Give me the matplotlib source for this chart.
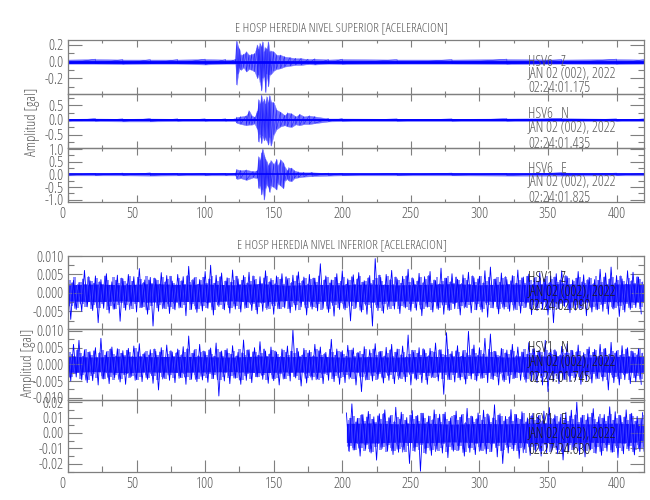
import numpy as np
import matplotlib
matplotlib.use('Agg')
import matplotlib.pyplot as plt
from matplotlib.ticker import MultipleLocator
from matplotlib.transforms import ScaledTranslation

plt.rcParams['font.family'] = ['Open Sans', 'DejaVu Sans']
plt.rcParams['font.weight'] = 'light'
plt.rcParams['font.stretch'] = 'condensed'

# --- upper block, envelopes (gal)
z_t = [0, 20, 40, 60, 80, 100, 115, 122, 123, 124, 125, 126, 128, 130, 132, 134, 136, 138, 139, 140, 141, 142, 143, 144, 145, 146, 147, 148, 150, 152, 155, 158, 162, 166, 170, 175, 180, 190, 200, 240, 280, 320, 360, 400, 420]
z_hi = [0.025, 0.03, 0.025, 0.025, 0.025, 0.03, 0.025, 0.025, 0.25, 0.18, 0.15, 0.08, 0.09, 0.12, 0.08, 0.09, 0.10, 0.20, 0.15, 0.22, 0.18, 0.24, 0.12, 0.17, 0.15, 0.24, 0.12, 0.13, 0.12, 0.08, 0.08, 0.06, 0.05, 0.04, 0.04, 0.03, 0.035, 0.025, 0.03, 0.025, 0.025, 0.03, 0.025, 0.03, 0.025]
z_lo = [-0.025, -0.025, -0.03, -0.025, -0.025, -0.035, -0.025, -0.025, -0.28, -0.15, -0.08, -0.10, -0.07, -0.12, -0.09, -0.10, -0.12, -0.20, -0.16, -0.25, -0.35, -0.20, -0.18, -0.37, -0.15, -0.30, -0.16, -0.15, -0.11, -0.09, -0.08, -0.06, -0.05, -0.04, -0.04, -0.03, -0.035, -0.025, -0.03, -0.025, -0.025, -0.03, -0.025, -0.03, -0.025]

n_t = [0, 20, 40, 60, 80, 100, 115, 122, 123, 126, 130, 132, 134, 136, 138, 139, 140, 141, 142, 143, 144, 145, 146, 147, 148, 150, 152, 155, 158, 160, 163, 166, 169, 172, 176, 180, 190, 200, 240, 280, 320, 360, 400, 420]
n_hi = [0.04, 0.05, 0.04, 0.05, 0.04, 0.04, 0.04, 0.04, 0.10, 0.12, 0.15, 0.32, 0.15, 0.10, 0.30, 0.70, 0.55, 0.85, 0.60, 0.72, 0.55, 0.80, 0.60, 0.84, 0.62, 0.60, 0.35, 0.27, 0.16, 0.25, 0.22, 0.12, 0.20, 0.12, 0.15, 0.12, 0.05, 0.05, 0.04, 0.04, 0.05, 0.06, 0.04, 0.04]
n_lo = [-0.04, -0.04, -0.05, -0.05, -0.04, -0.04, -0.04, -0.04, -0.10, -0.14, -0.18, -0.16, -0.16, -0.12, -0.32, -0.75, -0.50, -0.80, -0.55, -0.70, -0.60, -0.72, -0.85, -0.60, -0.88, -0.50, -0.32, -0.22, -0.18, -0.22, -0.24, -0.15, -0.18, -0.14, -0.14, -0.11, -0.05, -0.04, -0.04, -0.04, -0.04, -0.04, -0.04, -0.04]

e_t = [0, 20, 40, 60, 80, 100, 115, 122, 123, 126, 130, 135, 138, 139, 140, 141, 142, 143, 144, 145, 146, 147, 148, 150, 152, 153, 155, 157, 158, 160, 161, 163, 165, 168, 172, 178, 190, 200, 240, 280, 320, 360, 400, 420]
e_hi = [0.04, 0.04, 0.05, 0.06, 0.04, 0.04, 0.04, 0.04, 0.20, 0.16, 0.18, 0.12, 0.15, 0.70, 0.55, 0.85, 1.00, 0.75, 0.60, 0.50, 0.35, 0.45, 0.55, 0.40, 0.60, 0.35, 0.58, 0.45, 0.30, 0.15, 0.27, 0.25, 0.15, 0.10, 0.08, 0.08, 0.05, 0.04, 0.04, 0.05, 0.04, 0.07, 0.05, 0.04]
e_lo = [-0.04, -0.04, -0.04, -0.05, -0.04, -0.04, -0.04, -0.04, -0.18, -0.15, -0.22, -0.12, -0.15, -0.55, -0.45, -0.80, -0.60, -1.00, -0.55, -0.40, -0.50, -0.70, -0.45, -0.50, -0.60, -0.35, -0.45, -0.55, -0.25, -0.18, -0.25, -0.27, -0.15, -0.12, -0.09, -0.07, -0.05, -0.04, -0.04, -0.04, -0.05, -0.05, -0.04, -0.04]

# --- lower block, one peak every 2 s, in 1e-4 gal
unit = 1e-4
hsv1z = [
    40, -72, 34, -45, 28, -50, 61, -38, 33, -48,
    46, -81, 36, -42, 52, -55, 30, -44, 48, -77,
    38, -47, 50, -35, 44, -52, 66, -40, 35, -58,
    42, -90, 37, -50, 55, -41, 47, -56, 32, -46,
    50, -38, 44, -62, 72, -45, 40, -53, 36, -49,
    58, -42, 75, -60, 48, -37, 54, -46, 41, -55,
    62, -44, 38, -52, 47, -40, 56, -48, 35, -57,
    44, -50, 60, -36, 39, -58, 46, -43, 52, -41,
    36, -54, 48, -47, 57, -38, 43, -60, 50, -44,
    40, -49, 79, -42, 46, -53, 35, -63, 52, -45,
    60, -46, 38, -76, 49, -40, 55, -52, 33, -58,
    47, -90, 93, -48, 42, -55, 50, -37, 61, -44,
    38, -56, 45, -41, 64, -50, 36, -47, 53, -62,
    44, -39, 58, -52, 33, -45, 67, -58, 40, -48,
    52, -43, 37, -60, 49, -38, 56, -54, 41, -46,
    45, -52, 60, -66, 70, -41, 38, -57, 54, -44,
    36, -50, 47, -42, 62, -55, 43, -39, 51, -59,
    40, -48, 55, -45, 37, -60, 46, -81, 52, -43,
    60, -37, 44, -54, 35, -47, 58, -41, 49, -62,
    42, -52, 36, -46, 64, -50, 54, -58, 70, -44,
    47, -64, 38, -52, 60, -45, 56, -40, 43, -57]
hsv1n = [
    45, -50, 60, -38, 72, -47, 42, -55, 38, -49,
    50, -62, 78, -44, 36, -58, 52, -40, 47, -53,
    41, -60, 48, -37, 55, -46, 62, -52, 35, -45,
    44, -57, 39, -77, 50, -41, 58, -48, 37, -55,
    46, -39, 53, -60, 85, -45, 42, -52, 60, -47,
    38, -54, 49, -43, 64, -95, 40, -50, 47, -58,
    56, -42, 36, -60, 73, -48, 44, -55, 50, -38,
    68, -45, 40, -57, 52, -49, 37, -62, 46, -43,
    55, -50, 103, -41, 38, -65, 48, -56, 42, -47,
    60, -44, 52, -58, 36, -48, 75, -52, 46, -60,
    41, -55, 57, -39, 49, -62, 35, -82, 53, -46,
    44, -50, 62, -43, 39, -56, 51, -48, 60, -58,
    46, -40, 55, -52, 88, -62, 37, -47, 50, -55,
    42, -60, 48, -38, 64, -50, 44, -90, 95, -45,
    39, -53, 56, -47, 41, -59, 99, -44, 58, -50,
    50, -42, 78, -55, 91, -46, 38, -62, 48, -52,
    43, -57, 60, -40, 52, -48, 36, -54, 65, -49,
    47, -55, 40, -62, 72, -82, 46, -50, 38, -58,
    54, -44, 62, -52, 41, -47, 58, -60, 35, -48,
    52, -56, 45, -41, 60, -50, 48, -77, 66, -55,
    40, -62, 56, -46, 50, -58, 38, -52, 47, -60]
hsv1e = [
    130, -120, 189, -110, 95, -150, 120, -105, 140, -130,
    105, -176, 125, -100, 150, -115, 110, -140, 167, -125,
    135, -108, 100, -198, 145, -120, 115, -248, 128, -135,
    110, -145, 150, -105, 122, -130, 135, -160, 98, -118,
    142, -110, 118, -150, 160, -125, 105, -140, 130, -112,
    148, -135, 112, -120, 183, -155, 125, -198, 108, -130,
    152, -115, 120, -165, 138, -105, 98, -145, 128, -120,
    110, -150, 142, -128, 165, -112, 118, -135, 100, -175,
    135, -122, 148, -108, 200, -140, 115, -155, 125, -110,
    158, -132, 105, -145, 120, -118, 170, -125, 138, -160,
    112, -135, 150, -115, 128, -142, 108, -120, 132]

# paler in-between swings, taken 1 s later than the peaks above
hsv1z_b = [
    -35, 28, -42, 22, -30, 38, -25, 44, -33, 26,
    -40, 30, -24, 46, -36, 20, -44, 34, -27, 40,
    -32, 25, -45, 31, -22, 42, -38, 28, -46, 35,
    -26, 40, -34, 24, -43, 30, -37, 45, -28, 21,
    -41, 33, -25, 47, -30, 36, -44, 23, -35, 42,
    -27, 38, -46, 26, -33, 44, -22, 32, -40, 29,
    -36, 45, -24, 34, -42, 27, -31, 46, -38, 22,
    -28, 41, -45, 30, -35, 25, -43, 37, -23, 44,
    -39, 28, -32, 47, -26, 33, -41, 24, -37, 40,
    -30, 46, -22, 35, -44, 27, -34, 42, -28, 31,
    -42, 23, -36, 44, -25, 38, -47, 29, -33, 41,
    -27, 34, -40, 48, -31, 22, -45, 36, -24, 43,
    -35, 26, -38, 46, -29, 41, -23, 32, -44, 28,
    -37, 47, -26, 35, -42, 24, -33, 40, -46, 30,
    -28, 43, -36, 25, -41, 34, -24, 46, -30, 38,
    -45, 27, -32, 42, -22, 37, -43, 29, -39, 44,
    -25, 33, -47, 26, -35, 41, -28, 45, -34, 23,
    -42, 31, -24, 38, -46, 28, -37, 43, -30, 35,
    -26, 47, -41, 22, -33, 40, -44, 30, -27, 36,
    -39, 25, -45, 34, -29, 43, -23, 38, -42, 27,
    -35, 46, -31, 24, -40, 33, -26, 44, -37, 29]
hsv1n_b = [
    -38, 30, -26, 44, -33, 24, -47, 36, -28, 41,
    -22, 35, -43, 27, -39, 46, -31, 25, -45, 33,
    -29, 42, -36, 23, -48, 38, -24, 31, -40, 28,
    -34, 46, -27, 37, -44, 22, -32, 41, -25, 35,
    -42, 29, -38, 47, -23, 33, -45, 26, -36, 40,
    -28, 44, -31, 24, -46, 37, -26, 42, -34, 30,
    -41, 25, -47, 35, -29, 43, -22, 38, -37, 27,
    -33, 46, -25, 31, -43, 40, -30, 23, -44, 36,
    -27, 39, -35, 48, -24, 28, -42, 34, -38, 26,
    -46, 41, -29, 32, -23, 45, -36, 27, -40, 37,
    -31, 24, -44, 43, -26, 35, -39, 30, -47, 22,
    -34, 46, -28, 38, -41, 25, -33, 44, -24, 36,
    -45, 29, -37, 23, -30, 42, -43, 33, -27, 47,
    -35, 26, -40, 37, -22, 44, -32, 28, -46, 31,
    -25, 41, -38, 24, -44, 35, -29, 46, -34, 27,
    -42, 32, -23, 45, -36, 39, -28, 25, -47, 34,
    -31, 43, -40, 26, -24, 37, -45, 30, -33, 46,
    -27, 41, -38, 23, -43, 35, -30, 44, -25, 28,
    -46, 33, -35, 42, -22, 38, -41, 26, -32, 45,
    -29, 36, -44, 24, -37, 47, -26, 31, -39, 34,
    -43, 27, -30, 46, -24, 40, -35, 29, -45, 33]
hsv1e_b = [
    -85, 95, -110, 72, -98, 118, -76, 104, -122, 88,
    -70, 112, -92, 126, -80, 100, -115, 74, -105, 90,
    -124, 82, -68, 116, -94, 108, -78, 128, -100, 70,
    -112, 86, -120, 96, -72, 122, -88, 76, -108, 114,
    -82, 102, -126, 68, -96, 110, -74, 92, -118, 84,
    -104, 124, -70, 98, -86, 116, -112, 78, -94, 106,
    -76, 120, -100, 88, -128, 72, -90, 112, -82, 102,
    -116, 80, -68, 126, -98, 94, -108, 74, -122, 86,
    -78, 110, -92, 118, -72, 100, -114, 84, -104, 128,
    -88, 70, -120, 96, -76, 108, -124, 82, -96, 114,
    -70, 104, -86, 122, -110, 76, -100, 90, -118]

# core of the noise, every 20 s, in 1e-4 gal
band_t = [0, 20, 40, 60, 80, 100, 120, 140, 160, 180, 200, 220, 240, 260, 280, 300, 320, 340, 360, 380, 400, 420]
z_core = [22, 24, 22, 25, 23, 24, 22, 25, 21, 23, 22, 24, 22, 23, 25, 22, 24, 23, 25, 23, 24, 25]
n_core = [24, 22, 25, 23, 24, 23, 22, 25, 23, 24, 22, 23, 22, 24, 23, 25, 22, 24, 25, 22, 24, 24]
e_band_t = [203, 220, 240, 260, 280, 300, 320, 340, 360, 380, 400, 420]
e_core = [62, 65, 60, 64, 58, 62, 60, 65, 62, 60, 64, 58]

title_top = 'E HOSP HEREDIA NIVEL SUPERIOR [ACELERACION]'
title_low = 'E HOSP HEREDIA NIVEL INFERIOR [ACELERACION]'
info_top = [('HSV6   Z', 'JAN 02 (002), 2022', '02:24:01.175'),
            ('HSV6   N', 'JAN 02 (002), 2022', '02:24:01.435'),
            ('HSV6   E', 'JAN 02 (002), 2022', '02:24:01.825')]
info_low = [('HSV1   Z', 'JAN 02 (002), 2022', '02:24:02.090'),
            ('HSV1   N', 'JAN 02 (002), 2022', '02:24:01.745'),
            ('HSV1   E', 'JAN 02 (002), 2022', '02:27:24.630')]

W, H = 650, 500
GREY = '#7f7f7f'
TXT = '#5a5a5a'
BLUE = '#0000ff'
fig = plt.figure(figsize=(W / 100, H / 100), dpi=100)


def make_axes(y0, y1, ylim, yticks, minor, fmt, tl):
    ax = fig.add_axes([68 / W, 1 - y1 / H, 576 / W, (y1 - y0) / H])
    ax.set_xlim(0, 420)
    ax.set_ylim(*ylim)
    ax.set_yticks(yticks)
    ax.set_yticklabels([fmt % v for v in yticks])
    ax.yaxis.set_minor_locator(MultipleLocator(minor))
    ax.xaxis.set_major_locator(MultipleLocator(50))
    ax.xaxis.set_minor_locator(MultipleLocator(25))
    ax.tick_params(axis='y', which='major', direction='in', left=True, right=True, length=10, width=0.8, color=GREY,
                   labelcolor=TXT, labelsize=11, pad=3)
    ax.tick_params(axis='y', which='minor', direction='in', left=True, right=True, length=4, width=0.8, color=GREY)
    ax.tick_params(axis='x', which='major', direction='in', top=True, bottom=True, length=tl, width=0.8, color=GREY,
                   labelcolor=TXT, labelsize=11, labelbottom=False)
    ax.tick_params(axis='x', which='minor', direction='in', top=True, bottom=True, length=tl / 2, width=0.8, color=GREY)
    for s in ax.spines.values():
        s.set_color(GREY)
        s.set_linewidth(0.9)
    ax.patch.set_alpha(0)
    return ax


def x_labels(ax):
    ax.tick_params(axis='x', which='major', labelbottom=True)
    ax.set_xticks([0, 50, 100, 150, 200, 250, 300, 350, 400])
    labs = ax.set_xticklabels(['0', '50', '100', '150', '200', '250', '300', '350', '400'])
    # the first two labels sit a bit left of their ticks
    for lab, dx in zip(labs[:2], (-6, -4)):
        lab.set_transform(lab.get_transform() + ScaledTranslation(dx / 100, 0, fig.dpi_scale_trans))


def put_info(info, ys, color):
    for txt, y in zip(info, ys):
        fig.text(528 / W, 1 - y / H, txt, color=color, fontsize=10.5, ha='left', va='center', zorder=10)


def upper_trace(ax, t, hi, lo, core):
    ax.fill_between(t, lo, hi, color='#7070ff', lw=0.3)
    zig = [v for pair in zip(hi, lo) for v in pair]
    ax.plot(np.repeat(t, 2), zig, color=BLUE, lw=0.4, alpha=0.7)
    ax.plot([0, 420], [0, 0], color=BLUE, lw=core)


def lower_trace(ax, vals, vals_b, t0, bt, core):
    t = t0 + 2 * np.arange(len(vals))
    b = np.abs(vals_b) * unit
    # jagged pale fringe, lower edge one sample on from the upper
    ax.fill_between(t + 1, -np.roll(b, 1), b, color='#8c8cff', lw=0, step='mid')
    core = np.array(core) * unit
    ax.fill_between(bt, -core, core, color='#1c1cff', lw=0)
    ax.plot(t + 1, np.array(vals_b) * unit, color='#4040ff', lw=0.7)
    ax.plot(t, np.array(vals) * unit, color=BLUE, lw=0.6)


ax1 = make_axes(40, 94, (-0.39, 0.26), [-0.2, 0.0, 0.2], 0.1, '%.1f', 5)
ax2 = make_axes(94, 148, (-0.96, 0.89), [-0.5, 0.0, 0.5], 0.25, '%.1f', 5)
ax3 = make_axes(148, 202, (-1.09, 1.04), [-1.0, -0.5, 0.0, 0.5, 1.0], 0.25, '%.1f', 5)
upper_trace(ax1, z_t, z_hi, z_lo, 2.0)
upper_trace(ax2, n_t, n_hi, n_lo, 1.4)
upper_trace(ax3, e_t, e_hi, e_lo, 1.2)
x_labels(ax3)

ax4 = make_axes(256, 329, (-0.0098, 0.0100), [-0.005, 0.0, 0.005, 0.010], 0.0025, '%.3f', 9)
ax5 = make_axes(329, 400, (-0.0107, 0.0106), [-0.010, -0.005, 0.0, 0.005, 0.010], 0.0025, '%.3f', 9)
ax6 = make_axes(400, 472, (-0.0253, 0.0214), [-0.02, -0.01, 0.0, 0.01, 0.02], 0.005, '%.2f', 9)
lower_trace(ax4, hsv1z, hsv1z_b, 0, band_t, z_core)
lower_trace(ax5, hsv1n, hsv1n_b, 0, band_t, n_core)
lower_trace(ax6, hsv1e, hsv1e_b, 203, e_band_t, e_core)
x_labels(ax6)

fig.text(342 / W, 1 - 28 / H, title_top, color=TXT, fontsize=9.5, ha='center', va='center')
fig.text(342 / W, 1 - 245 / H, title_low, color=TXT, fontsize=9.5, ha='center', va='center')
fig.text(33 / W, 1 - 122 / H, 'Amplitud [gal]', color=TXT, fontsize=10.5, rotation=90, ha='center', va='center')
fig.text(28 / W, 1 - 363 / H, 'Amplitud [gal]', color=TXT, fontsize=10.5, rotation=90, ha='center', va='center')

put_info(info_top[0], (62, 75, 89), TXT)
put_info(info_top[1], (115, 129, 144), TXT)
put_info(info_top[2], (169, 183, 199), TXT)
put_info(info_low[0], (278, 292, 306), '#1a1a1a')
put_info(info_low[1], (348, 363, 378), '#1a1a1a')
put_info(info_low[2], (420, 435, 450), '#1a1a1a')

fig.savefig('out.png', dpi=100)
